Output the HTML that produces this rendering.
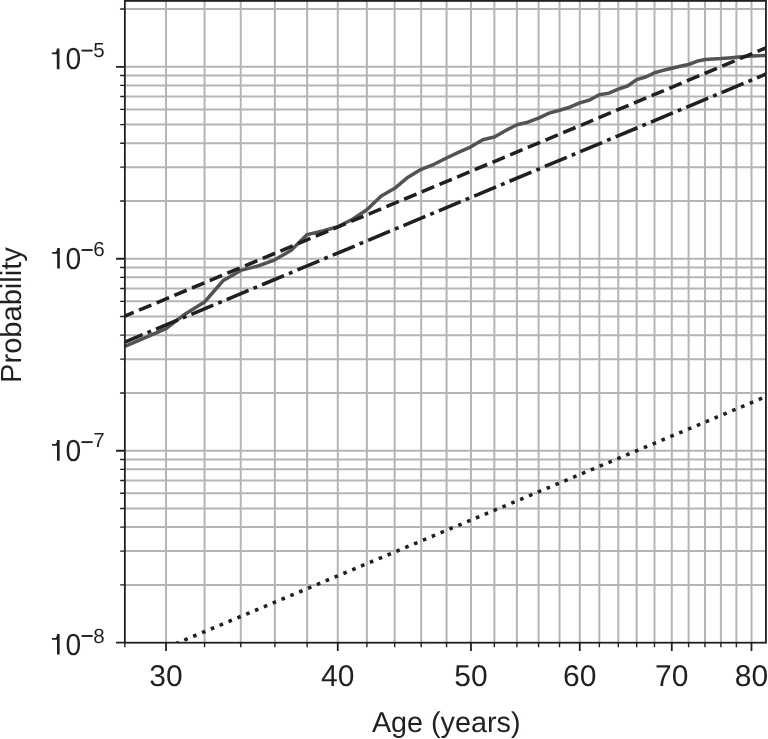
<!DOCTYPE html><html><head><meta charset="utf-8"><style>html,body{margin:0;padding:0;background:#fff;}svg{display:block;will-change:transform;}text{font-family:"Liberation Sans",sans-serif;text-rendering:geometricPrecision;}</style></head><body><svg width="768" height="739" viewBox="0 0 768 739">
<path d="M166.04 0.90V642.70M204.56 0.90V642.70M240.75 0.90V642.70M274.87 0.90V642.70M307.14 0.90V642.70M337.76 0.90V642.70M366.88 0.90V642.70M394.65 0.90V642.70M421.18 0.90V642.70M446.58 0.90V642.70M470.95 0.90V642.70M494.36 0.90V642.70M516.89 0.90V642.70M538.60 0.90V642.70M559.54 0.90V642.70M579.78 0.90V642.70M599.35 0.90V642.70M618.30 0.90V642.70M636.67 0.90V642.70M654.49 0.90V642.70M671.79 0.90V642.70M688.60 0.90V642.70M704.96 0.90V642.70M720.88 0.90V642.70M736.38 0.90V642.70M751.49 0.90V642.70M124.86 584.91H765.95M124.86 551.11H765.95M124.86 527.12H765.95M124.86 508.52H765.95M124.86 493.32H765.95M124.86 480.47H765.95M124.86 469.33H765.95M124.86 459.51H765.95M124.86 450.73H765.95M124.86 392.94H765.95M124.86 359.14H765.95M124.86 335.15H765.95M124.86 316.55H765.95M124.86 301.35H765.95M124.86 288.50H765.95M124.86 277.36H765.95M124.86 267.54H765.95M124.86 258.76H765.95M124.86 200.97H765.95M124.86 167.17H765.95M124.86 143.18H765.95M124.86 124.58H765.95M124.86 109.38H765.95M124.86 96.53H765.95M124.86 85.39H765.95M124.86 75.57H765.95M124.86 66.79H765.95M124.86 9.00H765.95M124.86 9.00H765.95" stroke="#b4b5b8" stroke-width="2" fill="none"/>
<defs><clipPath id="c"><rect x="124.86" y="0.90" width="641.09" height="641.80"/></clipPath></defs>
<g clip-path="url(#c)">
<polyline points="124.86,346.30 145.81,337.40 166.04,328.60 185.61,313.70 204.56,302.00 222.93,280.80 240.75,270.40 258.05,266.00 274.87,259.80 291.22,250.30 307.14,234.60 322.65,231.00 337.76,226.80 352.50,219.30 366.88,209.80 380.93,196.20 394.65,188.30 408.06,177.20 421.18,169.30 434.02,164.30 446.58,158.00 458.89,152.20 470.95,146.80 482.77,139.80 494.36,137.00 505.73,130.50 516.89,124.80 527.84,122.20 538.60,118.10 549.16,113.10 559.54,110.20 569.75,107.20 579.78,102.90 589.64,100.00 599.35,94.80 608.90,93.10 618.30,89.20 627.55,86.00 636.67,79.60 645.64,77.00 654.49,72.80 663.20,70.40 671.79,68.20 680.26,66.30 688.60,64.50 696.84,61.30 704.96,59.50 712.97,59.00 720.88,58.60 728.68,58.00 736.38,57.30 743.98,56.60 751.49,56.00 758.91,55.70 766.23,55.40" stroke="#525357" stroke-width="3.5" fill="none" stroke-linejoin="round"/>
<line x1="124.90" y1="316.10" x2="766.00" y2="47.80" stroke="#231f20" stroke-width="3.55" stroke-dasharray="13.376 5.784" stroke-dashoffset="3.875" fill="none"/>
<line x1="124.90" y1="342.10" x2="766.00" y2="74.00" stroke="#231f20" stroke-width="3.55" stroke-dasharray="23.736 5.334 3.915 5.334" stroke-dashoffset="4.609" fill="none"/>
<line x1="170.00" y1="646.10" x2="766.00" y2="396.58" stroke="#231f20" stroke-width="3.55" stroke-dasharray="3.615 5.965" stroke-dashoffset="3.621" fill="none"/>
</g>
<rect x="124.86" y="0.90" width="641.09" height="641.80" fill="none" stroke="#231f20" stroke-width="1.8"/>
<path d="M116.06 642.70H124.86M116.06 450.73H124.86M116.06 258.76H124.86M116.06 66.79H124.86M166.04 642.70V651.00M337.76 642.70V651.00M470.95 642.70V651.00M579.78 642.70V651.00M671.79 642.70V651.00M751.49 642.70V651.00" stroke="#231f20" stroke-width="1.8" fill="none"/>
<path d="M120.16 584.91H124.86M120.16 551.11H124.86M120.16 527.12H124.86M120.16 508.52H124.86M120.16 493.32H124.86M120.16 480.47H124.86M120.16 469.33H124.86M120.16 459.51H124.86M120.16 392.94H124.86M120.16 359.14H124.86M120.16 335.15H124.86M120.16 316.55H124.86M120.16 301.35H124.86M120.16 288.50H124.86M120.16 277.36H124.86M120.16 267.54H124.86M120.16 200.97H124.86M120.16 167.17H124.86M120.16 143.18H124.86M120.16 124.58H124.86M120.16 109.38H124.86M120.16 96.53H124.86M120.16 85.39H124.86M120.16 75.57H124.86M120.16 9.00H124.86M120.16 9.00H124.86M124.86 642.70V647.30M204.56 642.70V647.30M240.75 642.70V647.30M274.87 642.70V647.30M307.14 642.70V647.30M366.88 642.70V647.30M394.65 642.70V647.30M421.18 642.70V647.30M446.58 642.70V647.30M494.36 642.70V647.30M516.89 642.70V647.30M538.60 642.70V647.30M559.54 642.70V647.30M599.35 642.70V647.30M618.30 642.70V647.30M636.67 642.70V647.30M654.49 642.70V647.30M688.60 642.70V647.30M704.96 642.70V647.30M720.88 642.70V647.30M736.38 642.70V647.30" stroke="#231f20" stroke-width="1.4" fill="none"/>
<text x="166.04" y="686.3" font-size="30" font-family="Liberation Sans, sans-serif" text-rendering="geometricPrecision" fill="#231f20" text-anchor="middle">30</text>
<text x="337.76" y="686.3" font-size="30" font-family="Liberation Sans, sans-serif" text-rendering="geometricPrecision" fill="#231f20" text-anchor="middle">40</text>
<text x="470.95" y="686.3" font-size="30" font-family="Liberation Sans, sans-serif" text-rendering="geometricPrecision" fill="#231f20" text-anchor="middle">50</text>
<text x="579.78" y="686.3" font-size="30" font-family="Liberation Sans, sans-serif" text-rendering="geometricPrecision" fill="#231f20" text-anchor="middle">60</text>
<text x="671.79" y="686.3" font-size="30" font-family="Liberation Sans, sans-serif" text-rendering="geometricPrecision" fill="#231f20" text-anchor="middle">70</text>
<text x="751.49" y="686.3" font-size="30" font-family="Liberation Sans, sans-serif" text-rendering="geometricPrecision" fill="#231f20" text-anchor="middle">80</text>
<path d="M51.80 52.50H54.90C56.00 52.30 56.70 51.10 56.80 48.50H59.45V69.20H56.80V54.30H51.80Z" fill="#231f20"/>
<text transform="translate(65.5,69.40) scale(0.93,1)" font-size="30.3" font-family="Liberation Sans, sans-serif" text-rendering="geometricPrecision" fill="#231f20">0</text>
<rect x="81.5" y="49.65" width="11.2" height="1.9" fill="#231f20"/>
<text transform="translate(93.2,56.70)" font-size="20.5" font-family="Liberation Sans, sans-serif" text-rendering="geometricPrecision" fill="#231f20">5</text>
<path d="M52.20 251.90H55.30C56.40 251.70 57.10 250.50 57.20 247.90H59.85V268.60H57.20V253.70H52.20Z" fill="#231f20"/>
<text transform="translate(65.5,268.80) scale(0.93,1)" font-size="30.3" font-family="Liberation Sans, sans-serif" text-rendering="geometricPrecision" fill="#231f20">0</text>
<rect x="81.5" y="249.05" width="11.2" height="1.9" fill="#231f20"/>
<text transform="translate(93.2,256.40)" font-size="20.5" font-family="Liberation Sans, sans-serif" text-rendering="geometricPrecision" fill="#231f20">6</text>
<path d="M52.00 444.00H55.10C56.20 443.80 56.90 442.60 57.00 440.00H59.65V460.70H57.00V445.80H52.00Z" fill="#231f20"/>
<text transform="translate(65.5,460.90) scale(0.93,1)" font-size="30.3" font-family="Liberation Sans, sans-serif" text-rendering="geometricPrecision" fill="#231f20">0</text>
<rect x="81.5" y="441.15" width="11.2" height="1.9" fill="#231f20"/>
<text transform="translate(93.2,447.20)" font-size="20.5" font-family="Liberation Sans, sans-serif" text-rendering="geometricPrecision" fill="#231f20">7</text>
<path d="M52.00 637.90H55.10C56.20 637.70 56.90 636.50 57.00 633.90H59.65V654.60H57.00V639.70H52.00Z" fill="#231f20"/>
<text transform="translate(65.5,654.80) scale(0.93,1)" font-size="30.3" font-family="Liberation Sans, sans-serif" text-rendering="geometricPrecision" fill="#231f20">0</text>
<rect x="81.5" y="635.05" width="11.2" height="1.9" fill="#231f20"/>
<text transform="translate(93.2,642.60)" font-size="20.5" font-family="Liberation Sans, sans-serif" text-rendering="geometricPrecision" fill="#231f20">8</text>
<text x="371.9" y="732" font-size="28.75" font-family="Liberation Sans, sans-serif" text-rendering="geometricPrecision" fill="#231f20">Age (years)</text>
<text transform="translate(20.8,382.95) rotate(-90)" font-size="29.1" font-family="Liberation Sans, sans-serif" text-rendering="geometricPrecision" fill="#231f20">Probability</text>
</svg></body></html>
